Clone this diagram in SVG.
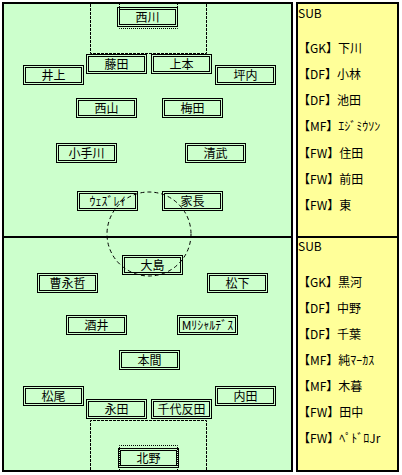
<svg xmlns="http://www.w3.org/2000/svg" width="402" height="475" viewBox="0 0 402 475">
<style>
.field{fill:#CCFFCC;stroke:#000;stroke-width:2}
.subp{fill:#FFFF99;stroke:#000;stroke-width:2}
.pen{fill:none;stroke:#000;stroke-width:1;stroke-dasharray:3 1}
.goal{fill:none;stroke:#000;stroke-width:1;stroke-dasharray:1 1}
.circ{fill:none;stroke:#000;stroke-width:1;stroke-dasharray:4 3}
.bo{fill:none;stroke:#000;stroke-width:1}
.t{font-family:"Noto Sans CJK JP","Noto Sans CJK SC",sans-serif;font-size:12px;fill:#000;text-anchor:middle}
.s{font-family:"Noto Sans CJK JP","Noto Sans CJK SC",sans-serif;font-size:12px;fill:#000}
</style>
<rect width="402" height="475" fill="#fff"/>
<g id="pitch">
<rect class="field" x="3" y="3" width="289" height="468"/>
<line x1="3" y1="237" x2="292" y2="237" stroke="#000" stroke-width="2"/>
<polyline class="pen" points="90.5,4 90.5,53.5 206.5,53.5 206.5,4"/>
<polyline class="goal" points="119.5,4 119.5,28.5 177.5,28.5 177.5,4"/>
<polyline class="pen" points="90.5,470 90.5,420.5 206.5,420.5 206.5,470"/>
<polyline class="goal" points="119.5,470 119.5,445.5 177.5,445.5 177.5,470"/>
<circle class="circ" cx="149" cy="234" r="42"/>
</g>
<g id="subs-top">
<rect class="subp" x="297" y="3" width="101" height="234"/>
<text class="s" x="298" y="18">SUB</text>
<text class="s" x="298" y="53">【GK】下川</text>
<text class="s" x="298" y="79">【DF】小林</text>
<text class="s" x="298" y="105">【DF】池田</text>
<text class="s" x="298" y="131">【MF】ｴｼﾞﾐｳｿﾝ</text>
<text class="s" x="298" y="157.5">【FW】住田</text>
<text class="s" x="298" y="183.5">【FW】前田</text>
<text class="s" x="298" y="209.5">【FW】東</text>
</g>
<g id="subs-bottom">
<rect class="subp" x="297" y="237" width="101" height="234"/>
<text class="s" x="298" y="251">SUB</text>
<text class="s" x="298" y="286.5">【GK】黒河</text>
<text class="s" x="298" y="312.5">【DF】中野</text>
<text class="s" x="298" y="338.5">【DF】千葉</text>
<text class="s" x="298" y="364.5">【MF】純ﾏｰｶｽ</text>
<text class="s" x="298" y="390.5">【MF】木暮</text>
<text class="s" x="298" y="416.5">【FW】田中</text>
<text class="s" x="298" y="442.5">【FW】ﾍﾟﾄﾞﾛJr</text>
</g>
<g id="n-nishikawa"><rect class="bo" x="117.5" y="7.5" width="60" height="19"/><rect class="bo" x="119.5" y="9.5" width="56" height="15"/><text class="t" x="147.5" y="21.5">西川</text></g>
<g id="n-fujita"><rect class="bo" x="86.5" y="54.5" width="60" height="19"/><rect class="bo" x="88.5" y="56.5" width="56" height="15"/><text class="t" x="116.5" y="68.5">藤田</text></g>
<g id="n-uemoto"><rect class="bo" x="151.5" y="54.5" width="60" height="19"/><rect class="bo" x="153.5" y="56.5" width="56" height="15"/><text class="t" x="181.5" y="68.5">上本</text></g>
<g id="n-inoue"><rect class="bo" x="23.5" y="65.5" width="60" height="19"/><rect class="bo" x="25.5" y="67.5" width="56" height="15"/><text class="t" x="53.5" y="79.5">井上</text></g>
<g id="n-tsubouchi"><rect class="bo" x="215.5" y="65.5" width="60" height="19"/><rect class="bo" x="217.5" y="67.5" width="56" height="15"/><text class="t" x="245.5" y="79.5">坪内</text></g>
<g id="n-nishiyama"><rect class="bo" x="76.5" y="98.5" width="60" height="19"/><rect class="bo" x="78.5" y="100.5" width="56" height="15"/><text class="t" x="106.5" y="112.5">西山</text></g>
<g id="n-umeda"><rect class="bo" x="162.5" y="98.5" width="60" height="19"/><rect class="bo" x="164.5" y="100.5" width="56" height="15"/><text class="t" x="192.5" y="112.5">梅田</text></g>
<g id="n-kotegawa"><rect class="bo" x="56.5" y="143.5" width="60" height="19"/><rect class="bo" x="58.5" y="145.5" width="56" height="15"/><text class="t" x="86.5" y="157.5">小手川</text></g>
<g id="n-kiyotake"><rect class="bo" x="185.5" y="143.5" width="60" height="19"/><rect class="bo" x="187.5" y="145.5" width="56" height="15"/><text class="t" x="215.5" y="157.5">清武</text></g>
<g id="n-wesley"><rect class="bo" x="77.5" y="191.5" width="60" height="19"/><rect class="bo" x="79.5" y="193.5" width="56" height="15"/><text class="t" x="107.5" y="205.5">ｳｪｽﾞﾚｲ</text></g>
<g id="n-ienaga"><rect class="bo" x="162.5" y="191.5" width="60" height="19"/><rect class="bo" x="164.5" y="193.5" width="56" height="15"/><text class="t" x="192.5" y="205.5">家長</text></g>
<g id="n-oshima"><rect class="bo" x="122.5" y="255.5" width="60" height="19"/><rect class="bo" x="124.5" y="257.5" width="56" height="15"/><text class="t" x="152.5" y="269.5">大島</text></g>
<g id="n-so"><rect class="bo" x="37.5" y="273.5" width="60" height="19"/><rect class="bo" x="39.5" y="275.5" width="56" height="15"/><text class="t" x="67.5" y="287.5">曹永哲</text></g>
<g id="n-matsushita"><rect class="bo" x="207.5" y="273.5" width="60" height="19"/><rect class="bo" x="209.5" y="275.5" width="56" height="15"/><text class="t" x="237.5" y="287.5">松下</text></g>
<g id="n-sakai"><rect class="bo" x="66.5" y="315.5" width="60" height="19"/><rect class="bo" x="68.5" y="317.5" width="56" height="15"/><text class="t" x="96.5" y="329.5">酒井</text></g>
<g id="n-marcelo"><rect class="bo" x="177.5" y="315.5" width="60" height="19"/><rect class="bo" x="179.5" y="317.5" width="56" height="15"/><text class="t" x="207.5" y="329.5">Mﾘｼｬﾙﾃﾞｽ</text></g>
<g id="n-honma"><rect class="bo" x="119.5" y="350.5" width="60" height="19"/><rect class="bo" x="121.5" y="352.5" width="56" height="15"/><text class="t" x="149.5" y="364.5">本間</text></g>
<g id="n-matsuo"><rect class="bo" x="23.5" y="386.5" width="60" height="19"/><rect class="bo" x="25.5" y="388.5" width="56" height="15"/><text class="t" x="53.5" y="400.5">松尾</text></g>
<g id="n-uchida"><rect class="bo" x="215.5" y="386.5" width="60" height="19"/><rect class="bo" x="217.5" y="388.5" width="56" height="15"/><text class="t" x="245.5" y="400.5">内田</text></g>
<g id="n-nagata"><rect class="bo" x="86.5" y="399.5" width="60" height="19"/><rect class="bo" x="88.5" y="401.5" width="56" height="15"/><text class="t" x="116.5" y="413.5">永田</text></g>
<g id="n-chiyotanda"><rect class="bo" x="151.5" y="399.5" width="60" height="19"/><rect class="bo" x="153.5" y="401.5" width="56" height="15"/><text class="t" x="181.5" y="413.5">千代反田</text></g>
<g id="n-kitano"><rect class="bo" x="118.5" y="448.5" width="60" height="19"/><rect class="bo" x="120.5" y="450.5" width="56" height="15"/><text class="t" x="148.5" y="462.5">北野</text></g>
<g id="connectors"/>
</svg>
